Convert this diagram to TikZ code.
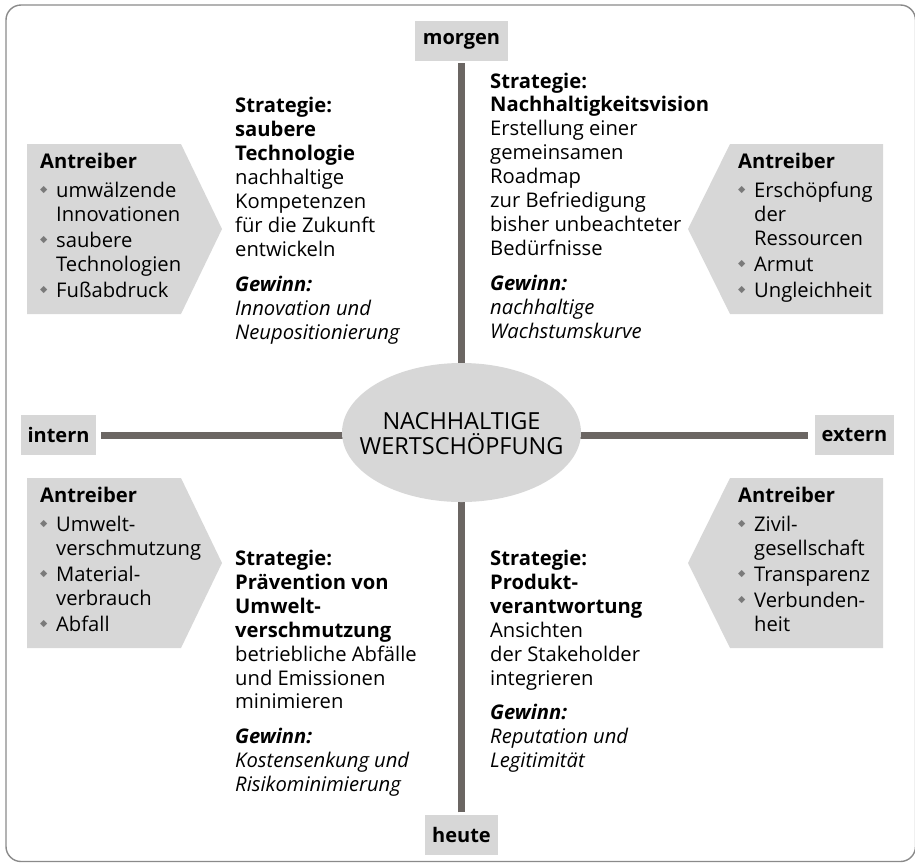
\documentclass[tikz,border=0pt]{standalone}
\usepackage{fontspec}
\setmainfont{Open Sans}
\newfontfamily\symfont{DejaVu Sans}
\usetikzlibrary{positioning,backgrounds,shapes.geometric}
\definecolor{boxgray}{HTML}{D7D7D7}
\definecolor{axisgray}{HTML}{6B6663}
\definecolor{framegray}{HTML}{8A8A8A}
\definecolor{dmdgray}{HTML}{7A7A7A}
\newcommand{\dmd}{\makebox[16pt][l]{\raisebox{5.5pt}{\textcolor{dmdgray}{\symfont\fontsize{9.5}{9.5}\selectfont ◆}}}}
\newcommand{\hang}{\hspace*{16pt}}
\tikzset{
  pole/.style={fill=boxgray, font=\bfseries\fontsize{20}{20}\selectfont, minimum height=40pt, inner sep=0pt},
  axisbar/.style={axisgray, line width=7pt},
  % base = baseline of the last line
  strat/.style={anchor=base west, align=left, inner sep=0pt, font=\fontsize{20.2}{23.9}\selectfont},
  driver/.style={strat}
}

\begin{document}
\begin{tikzpicture}[x=1pt,y=-1pt]
  \useasboundingbox (0,0) rectangle (915,863);
  \draw[framegray, line width=1.4pt, rounded corners=15pt] (6,5) rectangle (915.5,861.5);

  % poles of the two axes
  \node[pole, minimum width=93pt] (morgen) at (461.5,41) {morgen};
  \node[pole, minimum width=73pt] (heute) at (461.5,834.5) {heute};
  \node[pole, minimum width=75pt] (intern) at (58.5,435) {intern};
  \node[pole, minimum width=79pt] (extern) at (854.5,435) {extern};

  % centre
  \node[ellipse, fill=boxgray, minimum width=239pt, minimum height=139pt, inner sep=0pt] (core) at (461.5,432.5) {};
  \node[align=center, inner sep=0pt, font=\fontsize{23.5}{25}\selectfont] (coretext) at ([yshift=-1.5pt]core.center)
        {NACHHALTIGE\\WERTSCHÖPFUNG};

  \begin{scope}[on background layer]
    \draw[axisbar, shorten <=2pt] (morgen.south) -- (core.center);
    \draw[axisbar, shorten <=2pt] (heute.north) -- (core.center);
    \draw[axisbar, shorten <=5pt] (intern.east) -- (intern.east -| core.center);
    \draw[axisbar, shorten <=7pt] (extern.west) -- (extern.west -| core.center);
  \end{scope}

  % driver arrows
  \fill[boxgray] (27,144) -- (181,144) -- (222,229) -- (181,314) -- (27,314) -- cycle;
  \fill[boxgray] (883,144) -- (730,144) -- (688,229) -- (730,314) -- (883,314) -- cycle;
  \fill[boxgray] (27,478) -- (181,478) -- (222,563) -- (181,648) -- (27,648) -- cycle;
  \fill[boxgray] (883,478) -- (730,478) -- (688,563) -- (730,648) -- (883,648) -- cycle;

  \node[driver] (drvtl) at (40,297.5) {\textbf{Antreiber}\\[6pt]
    \dmd umwälzende\\ \hang Innovationen\\[2pt]
    \dmd saubere\\ \hang Technologien\\[2pt]
    \dmd Fußabdruck};
  \node[driver] (drvtr) at (738,297.5) {\textbf{Antreiber}\\[6pt]
    \dmd Erschöpfung\\ \hang der\\ \hang Ressourcen\\[2pt]
    \dmd Armut\\[2pt]
    \dmd Ungleichheit};
  \node[driver] (drvbl) at (40,631.5) {\textbf{Antreiber}\\[6pt]
    \dmd Umwelt-\\ \hang verschmutzung\\[2pt]
    \dmd Material-\\ \hang verbrauch\\[2pt]
    \dmd Abfall};
  \node[driver] (drvbr) at (738,631.5) {\textbf{Antreiber}\\[6pt]
    \dmd Zivil-\\ \hang gesellschaft\\[2pt]
    \dmd Transparenz\\[2pt]
    \dmd Verbunden-\\ \hang heit};

  % strategies
  \node[strat] (strtl) at (235,339) {\textbf{Strategie:}\\ \textbf{saubere}\\ \textbf{Technologie}\\
    nachhaltige\\ Kompetenzen\\ für die Zukunft\\ entwickeln\\[11pt]
    \textbf{\textit{Gewinn:}}\\ \textit{Innovation und}\\ \textit{Neupositionierung}};
  \node[strat] (strtr) at (490,338) {\textbf{Strategie:}\\ \textbf{Nachhaltigkeitsvision}\\
    Erstellung einer\\ gemeinsamen\\ Roadmap\\ zur Befriedigung\\ bisher unbeachteter\\ Bedürfnisse\\[11pt]
    \textbf{\textit{Gewinn:}}\\ \textit{nachhaltige}\\ \textit{Wachstumskurve}};
  \node[strat] (strbl) at (235,791.6) {\textbf{Strategie:}\\ \textbf{Prävention von}\\ \textbf{Umwelt-}\\ \textbf{verschmutzung}\\
    betriebliche Abfälle\\ und Emissionen\\ minimieren\\[11pt]
    \textbf{\textit{Gewinn:}}\\ \textit{Kostensenkung und}\\ \textit{Risikominimierung}};
  \node[strat] (strbr) at (490,767.7) {\textbf{Strategie:}\\ \textbf{Produkt-}\\ \textbf{verantwortung}\\
    Ansichten\\ der Stakeholder\\ integrieren\\[11pt]
    \textbf{\textit{Gewinn:}}\\ \textit{Reputation und}\\ \textit{Legitimität}};
\end{tikzpicture}
\end{document}
